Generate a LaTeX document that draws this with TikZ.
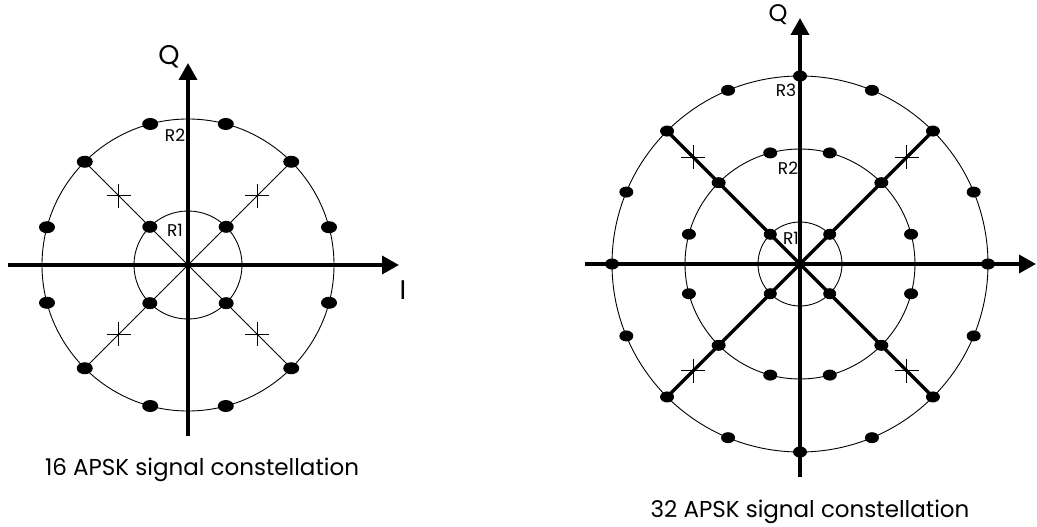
\documentclass[tikz,border=0pt]{standalone}
\usepackage{fontspec}
\setmainfont{Poppins}
\usetikzlibrary{arrows.meta,calc}
\begin{document}
\begin{tikzpicture}[x=1pt,y=-1pt,
  axisline/.style={line width=3.5pt,-{Triangle[length=17pt,width=18pt]}},
  thinline/.style={line width=0.9pt},
  spoke/.style={line width=3.5pt},
  axislabel/.style={font=\fontsize{27}{27}\selectfont,inner sep=0pt},
  rlabel/.style={font=\fontsize{17}{17}\selectfont,inner sep=0pt},
  caption/.style={font=\fontsize{23}{23}\selectfont,inner sep=0pt},
  crossmark/.pic={\draw[line width=0.9pt] (-12,0) -- (12,0) (0,-12) -- (0,12);}
]
\useasboundingbox (0,0) rectangle (1037,527);

% ---------- 16 APSK ----------
\coordinate (c1) at (188,265);
\coordinate (l1w) at (8,265);
\coordinate (l1e) at (399,265);
\coordinate (l1s) at (188,436);
\coordinate (l1n) at (188,63);
\draw[thinline] (c1) circle[radius=146];
\draw[thinline] (c1) circle[radius=54];
\draw[thinline] ($(c1)+(45:146)$) -- ($(c1)+(225:146)$);
\draw[thinline] ($(c1)+(135:146)$) -- ($(c1)+(315:146)$);
\draw[axisline] (l1w) -- (l1e);
\draw[axisline] (l1s) -- (l1n);
\foreach \a in {15,45,...,345} \fill ($(c1)+(\a:146)$) ellipse[x radius=8pt,y radius=6pt];
\foreach \a in {45,135,225,315} \fill ($(c1)+(\a:54)$) ellipse[x radius=7.5pt,y radius=6pt];
\foreach \a in {45,135,225,315} \path ($(c1)+(\a:98)$) pic {crossmark};
\node[axislabel] (q1) at (169,57) {Q};
\node[axislabel] (i1) at (403,290) {I};
\node[rlabel] (r21) at (175,135) {R2};
\node[rlabel] (r11) at (175,230) {R1};
\node[caption] (cap1) at (202,470) {16 APSK signal constellation};

% ---------- 32 APSK ----------
\coordinate (c2) at (800,264);
\coordinate (l2w) at (585,264);
\coordinate (l2e) at (1036,264);
\coordinate (l2s) at (800,477);
\coordinate (l2n) at (800,18);
\draw[thinline] (c2) circle[radius=188];
\draw[thinline] (c2) circle[radius=115];
\draw[thinline] (c2) circle[radius=42];
\draw[spoke] ($(c2)+(45:188)$) -- ($(c2)+(225:188)$);
\draw[spoke] ($(c2)+(135:188)$) -- ($(c2)+(315:188)$);
\draw[axisline] (l2w) -- (l2e);
\draw[axisline] (l2s) -- (l2n);
\foreach \a in {0,22.5,...,337.5} \fill ($(c2)+(\a:188)$) ellipse[x radius=7pt,y radius=5.5pt];
\foreach \a in {15,45,...,345} \fill ($(c2)+(\a:115)$) ellipse[x radius=7pt,y radius=5.5pt];
\foreach \a in {45,135,225,315} \fill ($(c2)+(\a:42)$) ellipse[x radius=6.5pt,y radius=5.5pt];
\foreach \a in {45,135,225,315} \path ($(c2)+(\a:151)$) pic {crossmark};
\node[axislabel,font=\fontsize{24}{24}\selectfont] (q2) at (778,15) {Q};
\node[rlabel] (r32) at (786,90) {R3};
\node[rlabel] (r22) at (788,168) {R2};
\node[rlabel] (r12) at (791,238) {R1};
\node[caption] (cap2) at (810,512) {32 APSK signal constellation};
\end{tikzpicture}
\end{document}
